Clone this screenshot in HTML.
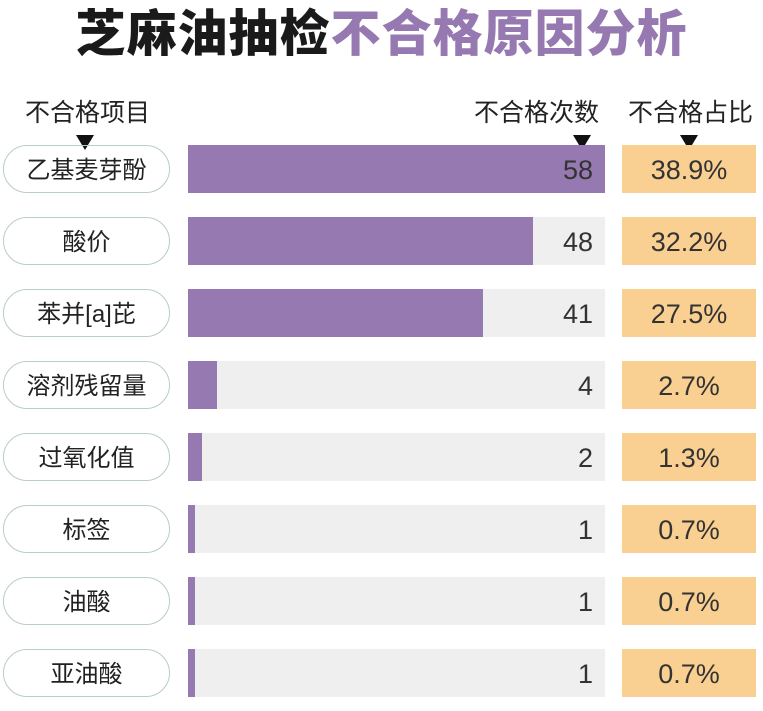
<!DOCTYPE html>
<html><head><meta charset="utf-8"><style>
body{margin:0;width:763px;height:711px;background:#fff;position:relative;overflow:hidden;font-family:"Liberation Sans","Noto Sans CJK SC",sans-serif;color:#222}
.a{position:absolute}
.title{left:0;width:763px;top:2px;text-align:center;font-size:50px;font-weight:900;letter-spacing:1px;line-height:64px}
.h{font-size:25px;top:98px;line-height:30px;color:#222}
.tri{width:0;height:0;border-left:9px solid transparent;border-right:9px solid transparent;border-top:15px solid #111}
.pill{left:3px;width:165px;height:46px;border:1px solid #b8ccc8;border-radius:24px;text-align:center;line-height:50px;font-size:24px}
.bg{left:188px;width:417px;height:48px;background:#efefef}
.bar{left:188px;height:48px;background:#9679b0}
.num{left:440px;width:153px;text-align:right;font-size:27px;line-height:50px;color:#333}
.pct{left:622px;width:134px;height:48px;background:#f9cf92;text-align:center;font-size:27px;line-height:50px;color:#333}
</style></head><body>
<div class="a title"><span style="color:#1a1a1a">芝麻油抽检</span><span style="color:#9679b0">不合格原因分析</span></div>
<div class="a h" style="left:25px">不合格项目</div>
<div class="a h" style="left:474px">不合格次数</div>
<div class="a h" style="left:628px">不合格占比</div>
<div class="a tri" style="left:76px;top:135px"></div>
<div class="a tri" style="left:573px;top:135px"></div>
<div class="a tri" style="left:680px;top:135px"></div>
<div id="rows"></div>
<script>
var d=[["乙基麦芽酚",58,"38.9%"],["酸价",48,"32.2%"],["苯并[a]芘",41,"27.5%"],["溶剂残留量",4,"2.7%"],["过氧化值",2,"1.3%"],["标签",1,"0.7%"],["油酸",1,"0.7%"],["亚油酸",1,"0.7%"]];
var w=[417,345,295,29,14,7,7,7];var h="";
d.forEach(function(r,i){var t=145+72*i;
h+='<div class="a pill" style="top:'+t+'px">'+r[0]+'</div>';
h+='<div class="a bg" style="top:'+t+'px"></div>';
h+='<div class="a bar" style="top:'+t+'px;width:'+w[i]+'px"></div>';
h+='<div class="a num" style="top:'+t+'px">'+r[1]+'</div>';
h+='<div class="a pct" style="top:'+t+'px">'+r[2]+'</div>';});
document.getElementById("rows").innerHTML=h;
</script>
</body></html>
